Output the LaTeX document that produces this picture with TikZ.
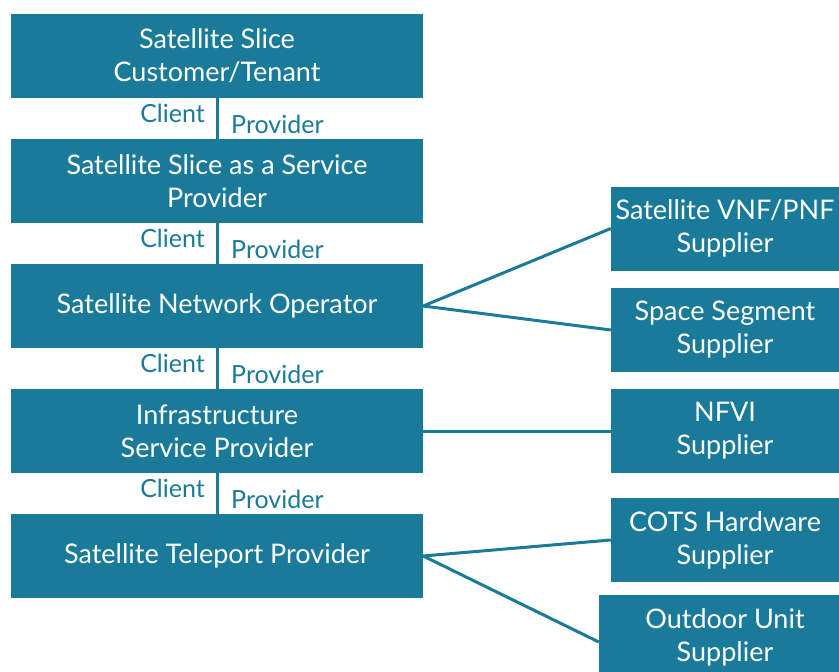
\documentclass[tikz,border=0pt]{standalone}
\usepackage{fontspec}
\setmainfont{Lato}
\usepackage{tikz}
\usetikzlibrary{calc}
\definecolor{myteal}{HTML}{1A7A9A}
\tikzset{
	role/.style={fill=myteal,text=white,inner sep=0pt,align=center,minimum height=84pt,
		font=\fontsize{27}{33}\selectfont},
	rolebig/.style={role,minimum width=412pt},
	link/.style={myteal,line width=3pt},
	tag/.style={myteal,inner sep=0pt,font=\fontsize{25}{30}\selectfont}
}

\begin{document}
\begin{tikzpicture}[x=1pt,y=-1pt]
		\useasboundingbox (0,0) rectangle (839,672);
		\clip (0,0) rectangle (839,672);

		% value chain
		\node[rolebig] (tenant) at (217,56) {Satellite Slice\\Customer/Tenant};
		\node[rolebig] (ssaas) at (217,181) {Satellite Slice as a Service\\Provider};
		\node[rolebig] (sno) at (217,306) {Satellite Network Operator};
		\node[rolebig] (isp) at (217,431) {Infrastructure\\Service Provider};
		\node[rolebig] (teleport) at (217,556) {Satellite Teleport Provider};

		% suppliers
		\node[role,minimum width=228pt] (vnf) at (725,228.5) {Satellite VNF/PNF\\Supplier};
		\node[role,minimum width=228pt] (space) at (725,330) {Space Segment\\Supplier};
		\node[role,minimum width=228pt] (nfvi) at (725,431) {NFVI\\Supplier};
		\node[role,minimum width=228pt] (cots) at (725,540) {COTS Hardware\\Supplier};
		\node[role,minimum width=252pt] (odu) at (725,637) {Outdoor Unit\\Supplier};

		\draw[link] (tenant) -- (ssaas);
		\draw[link] (ssaas) -- (sno);
		\draw[link] (sno) -- (isp);
		\draw[link] (isp) -- (teleport);

		\node[tag,anchor=base east] (c1) at ($(tenant.south)+(-12,24)$) {Client};
		\node[tag,anchor=base west] (p1) at ($(tenant.south)+(14,35)$) {Provider};
		\node[tag,anchor=base east] (c2) at ($(ssaas.south)+(-12,24)$) {Client};
		\node[tag,anchor=base west] (p2) at ($(ssaas.south)+(14,35)$) {Provider};
		\node[tag,anchor=base east] (c3) at ($(sno.south)+(-12,24)$) {Client};
		\node[tag,anchor=base west] (p3) at ($(sno.south)+(14,35)$) {Provider};
		\node[tag,anchor=base east] (c4) at ($(isp.south)+(-12,24)$) {Client};
		\node[tag,anchor=base west] (p4) at ($(isp.south)+(14,35)$) {Provider};

		\draw[link] (sno.east) -- (vnf.west);
		\draw[link] (sno.east) -- (space.west);
		\draw[link] (isp.east) -- (nfvi.west);
		\draw[link] (teleport.east) -- (cots.west);
		\draw[link] (teleport.east) -- ($(odu.west)+(0,5)$);
	\end{tikzpicture}
\end{document}
